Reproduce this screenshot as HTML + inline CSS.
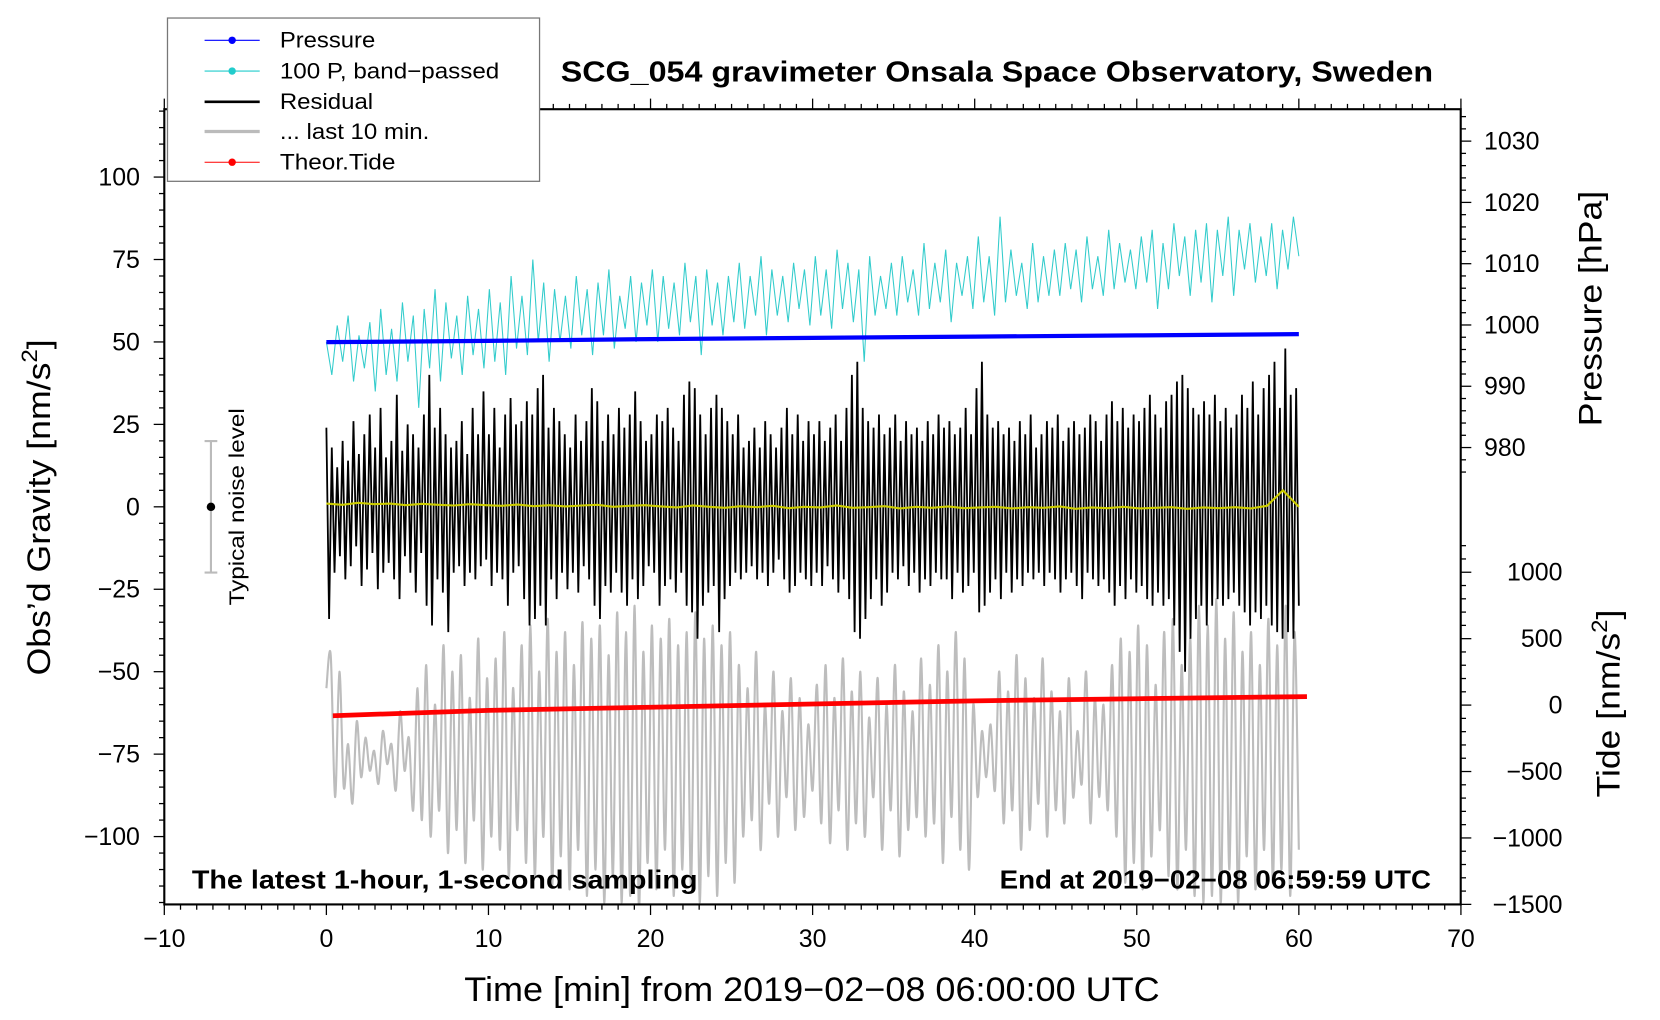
<!DOCTYPE html>
<html><head><meta charset="utf-8"><style>
html,body{margin:0;padding:0;background:#fff;}
svg{display:block;font-family:"Liberation Sans",Arial,sans-serif;}
</style></head><body>
<svg id="chart" width="1660" height="1020" viewBox="0 0 1566 962" preserveAspectRatio="none" xmlns="http://www.w3.org/2000/svg">
<rect x="0" y="0" width="1566" height="962" fill="#fff"/>
<g id="series"></g>
<g id="axes"></g>
<text x="529" y="77" font-size="27" font-weight="bold" textLength="823" lengthAdjust="spacingAndGlyphs">SCG_054 gravimeter Onsala Space Observatory, Sweden</text>
<text x="181" y="838" font-size="24" font-weight="bold" textLength="477" lengthAdjust="spacingAndGlyphs">The latest 1-hour, 1-second sampling</text>
<text x="943" y="838" font-size="24" font-weight="bold" textLength="407" lengthAdjust="spacingAndGlyphs">End at 2019−02−08 06:59:59 UTC</text>
<text x="438" y="944" font-size="32" textLength="656" lengthAdjust="spacingAndGlyphs">Time [min] from 2019−02−08 06:00:00 UTC</text>
<text transform="translate(47,637) rotate(-90)" font-size="31" textLength="317" lengthAdjust="spacingAndGlyphs">Obs’d Gravity [nm/s<tspan font-size="21" dy="-12">2</tspan><tspan dy="12">]</tspan></text>
<text transform="translate(1511,402) rotate(-90)" font-size="31" textLength="222" lengthAdjust="spacingAndGlyphs">Pressure [hPa]</text>
<text transform="translate(1528,752) rotate(-90)" font-size="31" textLength="177" lengthAdjust="spacingAndGlyphs">Tide [nm/s<tspan font-size="21" dy="-12">2</tspan><tspan dy="12">]</tspan></text>
<g>
<line x1="199" y1="416" x2="199" y2="540" stroke="#bbb" stroke-width="2"/>
<line x1="193" y1="416" x2="205" y2="416" stroke="#bbb" stroke-width="2"/>
<line x1="193" y1="540" x2="205" y2="540" stroke="#bbb" stroke-width="2"/>
<circle cx="199" cy="478" r="4" fill="#000"/>
<text transform="translate(230,571) rotate(-90)" font-size="20" textLength="186" lengthAdjust="spacingAndGlyphs">Typical noise level</text>
</g>
<g>
<rect x="158" y="17" width="351" height="154" fill="#fff" stroke="#777" stroke-width="1.2"/>
<g><line x1="193" y1="38" x2="245" y2="38" stroke="#00f" stroke-width="1"/><circle cx="219" cy="38" r="3.5" fill="#00f"/><text x="264" y="45" font-size="21" textLength="90" lengthAdjust="spacingAndGlyphs">Pressure</text></g>
<g><line x1="193" y1="67" x2="245" y2="67" stroke="#2cc" stroke-width="1"/><circle cx="219" cy="67" r="3.5" fill="#2cc"/><text x="264" y="74" font-size="21" textLength="207" lengthAdjust="spacingAndGlyphs">100 P, band−passed</text></g>
<g><line x1="193" y1="96" x2="245" y2="96" stroke="#000" stroke-width="2.5"/><text x="264" y="103" font-size="21" textLength="88" lengthAdjust="spacingAndGlyphs">Residual</text></g>
<g><line x1="193" y1="124" x2="245" y2="124" stroke="#bbb" stroke-width="3"/><text x="264" y="131" font-size="21" textLength="141" lengthAdjust="spacingAndGlyphs">... last 10 min.</text></g>
<g><line x1="193" y1="153" x2="245" y2="153" stroke="#f00" stroke-width="1"/><circle cx="219" cy="153" r="3.5" fill="#f00"/><text x="264" y="160" font-size="21" textLength="109" lengthAdjust="spacingAndGlyphs">Theor.Tide</text></g>
</g>
</svg>
<script>
const residual = [24,-34,18,-20,12,-15,20,-22,14,-18,26,-12,16,-24,22,-19,28,-14,18,-25,30,-20,15,-17,20,-22,34,-28,17,-15,25,-20,22,-26,18,-14,28,-30,40,-36,24,-22,30,-26,22,-38,18,-20,20,-18,26,-24,16,-20,30,-22,22,-18,35,-16,22,-24,30,-20,18,-22,28,-30,33,-20,25,-18,26,-28,32,-36,28,-34,36,-30,40,-36,24,-22,30,-28,26,-20,22,-25,18,-20,28,-26,20,-18,26,-22,36,-30,32,-34,20,-24,28,-26,22,-20,30,-26,24,-30,28,-22,35,-28,26,-24,20,-18,22,-20,28,-30,26,-24,30,-22,24,-26,20,-20,34,-30,38,-32,36,-40,28,-30,22,-26,30,-24,34,-38,30,-28,26,-24,22,-20,28,-22,18,-20,20,-18,24,-22,18,-20,26,-24,22,-20,18,-16,24,-22,30,-26,22,-24,28,-20,20,-22,26,-24,22,-20,26,-24,20,-18,24,-22,28,-26,20,-22,30,-28,40,-38,44,-40,30,-34,26,-28,24,-22,28,-30,22,-26,24,-20,28,-22,20,-18,26,-24,22,-20,24,-26,20,-22,26,-24,22,-20,28,-22,24,-22,26,-28,22,-20,24,-26,30,-24,22,-20,36,-32,44,-30,28,-26,24,-22,26,-28,22,-20,24,-26,20,-22,26,-24,22,-20,28,-22,18,-20,22,-24,26,-20,24,-22,28,-26,20,-22,24,-20,26,-24,22,-28,24,-20,28,-22,26,-24,20,-22,28,-26,32,-30,26,-24,30,-28,24,-22,28,-26,26,-24,30,-28,34,-30,28,-26,24,-30,32,-28,34,-36,38,-44,40,-50,36,-40,30,-34,28,-30,32,-36,28,-30,34,-28,26,-30,30,-28,24,-26,28,-30,34,-32,30,-36,38,-32,28,-34,36,-30,40,-36,44,-38,30,-40,48,-38,34,-40,36,-30];
const bandpassed = [50,40,55,44,58,38,52,42,56,35,60,40,54,38,62,44,58,30,60,42,66,38,62,45,58,40,64,46,60,42,66,44,62,40,70,48,64,46,75,50,68,44,66,50,64,48,70,52,66,46,68,52,72,48,64,54,70,50,68,55,72,50,70,54,68,52,74,56,70,46,72,55,68,52,70,56,74,54,70,58,76,52,72,58,70,56,74,60,72,55,76,58,72,54,78,60,74,56,72,44,76,58,70,60,74,58,76,62,72,58,80,60,74,62,78,56,74,64,76,60,82,62,76,58,88,62,78,64,74,60,80,62,76,64,78,64,80,66,78,62,82,66,76,64,84,66,80,68,78,66,82,68,84,60,80,66,86,70,82,64,84,68,86,62,84,70,88,64,84,72,86,68,82,70,86,66,84,72,88,76];
const last10 = [-55,-45,-88,-50,-85,-72,-90,-65,-82,-70,-80,-74,-84,-68,-78,-72,-86,-62,-80,-70,-92,-55,-95,-48,-100,-60,-92,-42,-105,-50,-98,-45,-108,-58,-95,-40,-110,-52,-100,-46,-104,-38,-112,-55,-98,-42,-108,-36,-112,-50,-100,-34,-115,-44,-106,-38,-116,-48,-104,-35,-118,-40,-110,-36,-120,-45,-112,-32,-120,-38,-118,-30,-122,-44,-108,-36,-116,-40,-104,-34,-118,-42,-110,-38,-115,-32,-120,-40,-112,-36,-118,-42,-108,-38,-114,-48,-100,-55,-95,-44,-104,-60,-90,-50,-100,-62,-88,-52,-98,-58,-94,-66,-86,-54,-96,-48,-102,-58,-92,-46,-104,-56,-96,-50,-100,-64,-88,-52,-104,-60,-92,-48,-106,-56,-98,-62,-94,-46,-100,-54,-96,-42,-108,-50,-94,-38,-104,-46,-110,-60,-88,-68,-82,-66,-86,-50,-96,-56,-92,-45,-104,-52,-98,-58,-90,-46,-100,-56,-92,-62,-96,-52,-88,-68,-84,-50,-96,-58,-88,-60,-92,-48,-100,-40,-114,-44,-108,-36,-116,-42,-106,-54,-98,-38,-112,-34,-116,-48,-104,-40,-118,-30,-120,-36,-118,-28,-120,-40,-110,-32,-120,-44,-106,-38,-116,-48,-104,-34,-114,-42,-110,-30,-118,-38,-104];
const smoothed = [1,0.6,1.2,0.8,1,0.5,0.9,0.6,0.4,0.8,0.5,0.3,0.7,0.2,0.5,0.1,0.4,0.6,0,0.3,0.5,0.1,-0.2,0.4,0,-0.3,0.2,-0.1,0.3,-0.4,0,-0.2,0.4,-0.3,-0.1,0.2,-0.5,0,-0.3,0.1,-0.4,-0.2,0,-0.5,-0.1,-0.3,0.1,-0.6,-0.2,-0.4,0,-0.5,-0.3,-0.1,-0.6,-0.2,-0.4,-0.1,-0.5,0.3,5,0];
const pressureTimes = [0,10,20,30,40,50,60];
const pressureValues = [997.2,997.4,997.7,997.9,998.1,998.3,998.5];
const tideTimes = [0.4,10,20,30,40,50,60.5];
const tideValues = [-80,-40,-16,8,32,48,64];
const xTicks = [-10,0,10,20,30,40,50,60,70];
const yTicks = [-100,-75,-50,-25,0,25,50,75,100];
const pTicks = [980,990,1000,1010,1020,1030];
const tTicks = [-1500,-1000,-500,0,500,1000];

const NS = "http://www.w3.org/2000/svg";
const L=155,R=1378,T=103,B=853;
const xS = t => 307.9 + t*15.29;
const yS = v => 478 - v*3.11;
const pS = p => 306.5 - (p-1000)*5.78;
const tS = v => 665 - v*0.1253;
const series = document.getElementById('series');
const axes = document.getElementById('axes');
function mk(tag, attrs, parent){const e=document.createElementNS(NS,tag);for(const k in attrs)e.setAttribute(k,attrs[k]);parent.appendChild(e);return e;}

const defs = mk('defs',{},series);
const cp = mk('clipPath',{id:'plotclip'},defs);
mk('rect',{x:L,y:T,width:R-L,height:B-T},cp);
const g = mk('g',{'clip-path':'url(#plotclip)'},series);

(function(){
  const n=last10.length; const pts=last10.map((v,i)=>[xS(60*i/(n-1)),yS(v)]);
  let d='M'+pts[0][0]+','+pts[0][1];
  for(let i=0;i<n-1;i++){const p0=pts[Math.max(0,i-1)],p1=pts[i],p2=pts[i+1],p3=pts[Math.min(n-1,i+2)];
    const c1=[p1[0]+(p2[0]-p0[0])/6,p1[1]+(p2[1]-p0[1])/6],c2=[p2[0]-(p3[0]-p1[0])/6,p2[1]-(p3[1]-p1[1])/6];
    d+=' C'+c1.join(',')+' '+c2.join(',')+' '+p2.join(',');}
  const e=mk('path',{d:d,fill:'none',stroke:'#bdbdbd','stroke-width':2},g);
  
  
})();
function poly(vals, times, ys, attrs, name){
  const pts=vals.map((v,i)=>xS(times(i))+','+ys(v)).join(' ');
  const e=mk('polyline',Object.assign({points:pts,fill:'none'},attrs),g);
  
  
  return e;
}
poly(bandpassed,i=>60*i/(bandpassed.length-1),yS,{stroke:'#33cccc','stroke-width':1},'bandpassed-pressure-line');
poly(residual,i=>60*i/(residual.length-1),yS,{stroke:'#000','stroke-width':1.7},'residual-line');
poly(smoothed,i=>60*i/(smoothed.length-1),yS,{stroke:'#cccc00','stroke-width':2},'smoothed-residual-line');
poly(pressureValues,i=>pressureTimes[i],pS,{stroke:'#0000ff','stroke-width':4},'pressure-line');
poly(tideValues,i=>tideTimes[i],tS,{stroke:'#ff0000','stroke-width':4.5},'tide-line');

const fr=mk('rect',{x:L,y:T,width:R-L,height:B-T,fill:'none',stroke:'#000','stroke-width':2},axes);


function tick(x1,y1,x2,y2,w){mk('line',{x1:x1,y1:y1,x2:x2,y2:y2,stroke:'#000','stroke-width':w||1.2},axes);}
for(let t=-10;t<=70;t++){const x=xS(t);const maj=(t%10===0);const len=maj?10:5;tick(x,B,x,B+len);tick(x,T,x,T-len);}
for(let v=-120;v<=120;v+=5){const y=yS(v);if(y<T||y>B)continue;tick(L,y,L-(v%25===0?10:5),y);}
for(let p=976;p<=1034;p+=2){const y=pS(p);if(y<T||y>B)continue;tick(R,y,R+(p%10===0?10:5),y);}
for(let v=-1500;v<=1200;v+=100){const y=tS(v);if(y<T||y>B)continue;tick(R,y,R+(v%500===0?10:5),y);}
function label(txt,x,y,anchor,name){const e=mk('text',{x:x,y:y,'font-size':23.5,'text-anchor':anchor},axes);e.textContent=txt;
  
  }
const fmt=v=>String(v).replace('-','\u2212');
xTicks.forEach(t=>label(fmt(t),xS(t),893,'middle','x-tick-label'));
yTicks.forEach(v=>label(fmt(v),132,yS(v)+8,'end','y-tick-label'));
pTicks.forEach(p=>label(fmt(p),1400,pS(p)+8,'start','pressure-tick-label'));
tTicks.forEach(v=>label(fmt(v),1474,tS(v)+8,'end','tide-tick-label'));
</script>
</body></html>
